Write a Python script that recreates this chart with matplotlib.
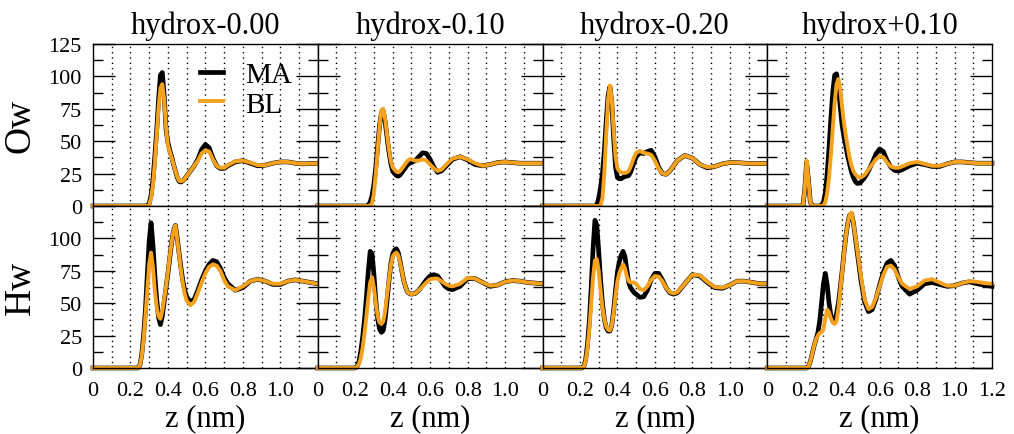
import matplotlib.pyplot as plt
import numpy as np
from matplotlib.ticker import MultipleLocator

plt.rcParams["font.family"] = ["Liberation Serif", "DejaVu Serif"]

MA_COLOR = "#000000"
BL_COLOR = "#f4a21e"

TITLES = ["hydrox-0.00", "hydrox-0.10", "hydrox-0.20", "hydrox+0.10"]
ROW_LABELS = ["Ow", "Hw"]
SERIES = ["MA", "BL"]
XTICKS = [0.0, 0.2, 0.4, 0.6, 0.8, 1.0, 1.2]
XTICK_LABELS = ["0", "0.2", "0.4", "0.6", "0.8", "1.0", "1.2"]

# z grid (nm) shared by all profiles
Z = [0.00, 0.18, 0.19, 0.20, 0.21, 0.22, 0.23, 0.24, 0.25, 0.26, 0.27, 0.28, 0.29,
     0.30, 0.31, 0.32, 0.33, 0.34, 0.35, 0.36, 0.37, 0.38, 0.39, 0.40,
     0.41, 0.42, 0.43, 0.44, 0.45, 0.46, 0.47, 0.48, 0.49, 0.50,
     0.52, 0.54, 0.56, 0.58, 0.60, 0.62, 0.64, 0.66, 0.68, 0.70, 0.72,
     0.76, 0.80, 0.84, 0.88, 0.92, 0.96, 1.00, 1.04, 1.08, 1.12, 1.16, 1.20]

# water oxygen density
OW_000_MA = [0, 0, 0, 0, 0, 0, 0, 0, 0, 0, 0, 0, 0,
             2, 8, 20, 38, 58, 82, 101, 103, 85, 59, 49,
             43, 38, 32, 27, 22, 19, 18.5, 19.5, 21, 23,
             27, 31, 36, 43.5, 47.5, 45, 37, 31, 29, 29, 31,
             34, 35, 33, 31, 31.5, 33, 34, 34, 33, 32.5, 32.7, 33]
OW_000_BL = [0, 0, 0, 0, 0, 0, 0, 0, 0, 0, 0, 0, 0,
             1, 6, 16, 33, 54, 76, 91, 94, 82, 60, 47,
             42, 37, 32, 27, 22.5, 19.5, 19, 19.5, 21, 23,
             27, 31, 35, 40.5, 43, 42, 36, 31, 29.5, 29.5, 31.5,
             34.5, 35, 33.5, 31.5, 31.5, 33, 34, 34, 33, 32.5, 32.7, 33]
OW_010_MA = [0, 0, 0, 0, 0, 0, 0, 0, 0, 0, 0.5, 3, 8,
             17, 30, 46, 62, 72, 73, 65, 53, 42, 33, 27,
             25, 23.5, 23, 24, 26, 28, 30, 32, 33, 33.5,
             35, 38, 41, 40.5, 36, 30, 26, 27, 30, 33, 36,
             38, 35.5, 32, 31, 32, 33.5, 34, 33.5, 33, 33, 33, 33]
OW_010_BL = [0, 0, 0, 0, 0, 0, 0, 0, 0, 0, 0, 0.5, 2,
             10, 25, 43, 61, 74, 75, 67, 55, 44, 35, 30,
             28, 26.5, 26, 27, 29, 31, 33, 35, 36, 36,
             35, 35, 36, 35, 32, 29, 27, 28, 31, 34, 36.5,
             38, 36, 33, 31, 32, 33.5, 34, 33.5, 33, 33, 33, 33]
OW_020_MA = [0, 0, 0, 0, 0, 0, 0, 0, 0, 0, 0, 0, 0.5,
             6, 14, 25, 42, 65, 85, 92, 80, 52, 30, 22,
             21, 21, 22, 23, 23, 23.5, 26, 30, 34, 38,
             41, 40.5, 42, 43, 38, 30, 25, 24.5, 27, 31, 35,
             39, 37, 32, 29.5, 30.5, 32.5, 33.5, 33.5, 33, 32.7, 32.7, 32.7]
OW_020_BL = [0, 0, 0, 0, 0, 0, 0, 0, 0, 0, 0, 0, 0,
             0, 0.5, 6, 25, 55, 82, 93, 82, 58, 38, 29,
             27, 26, 25.5, 25.5, 26, 27, 30, 34, 38, 41,
             42.5, 41, 40.5, 39.5, 35, 29, 25, 24.5, 27, 31, 35,
             39, 37, 32, 30, 30.5, 32.5, 33.5, 33.5, 33, 32.7, 32.7, 32.7]
OW_P10_MA = [0, 0, 0, 12, 34, 20, 3, 0, 0, 0, 0, 0, 0.5,
             3, 10, 25, 45, 68, 88, 101, 102, 92, 76, 62,
             53, 46, 38, 32, 26, 22, 19, 17.5, 17.5, 18.5,
             22, 27, 33, 40, 44, 42, 35, 30, 27.5, 27, 28,
             31, 33, 32, 30.5, 30.5, 32.5, 34, 34, 33.5, 33, 33, 33]
OW_P10_BL = [0, 0, 0, 12, 35, 20, 3, 0, 0, 0, 0, 0, 0,
             0.5, 3, 10, 22, 40, 60, 80, 94, 98, 90, 76,
             64, 54, 45, 37, 31, 27, 24.5, 23, 22, 22,
             24, 28, 32, 36, 38.5, 37.5, 33.5, 30.5, 29.5, 29.5, 30.5,
             33, 34, 32.5, 31, 31, 32.5, 34, 34, 33.5, 33, 33, 33]

# water hydrogen density
HW_000_MA = [0, 0, 0, 0, 0, 0, 0, 0, 2, 10, 25, 45, 72,
             98, 112, 95, 72, 53, 39, 33.5, 40, 51, 62, 73,
             85, 97, 106, 110, 100, 88, 77, 67, 60, 55,
             51, 53, 60, 68, 75, 80, 83, 82, 77, 70, 65,
             60, 62, 67, 68.5, 67, 64.5, 64.5, 67, 68, 67, 66, 65]
HW_000_BL = [0, 0, 0, 0, 0, 0, 0, 0, 2, 9, 22, 40, 60,
             80, 89, 78, 60, 47, 40, 38, 44, 53, 63, 74,
             86, 97, 106, 110, 99, 87, 75, 65, 57, 52,
             48.5, 51, 58, 66, 73, 78, 80, 79, 75, 68, 63,
             60, 63, 67, 68.5, 67, 65, 65, 67, 68, 67, 66, 65]
HW_010_MA = [0, 0, 0, 0, 1, 5, 13, 24, 38, 55, 75, 90, 88,
             72, 52, 38, 30, 27.5, 29, 38, 52, 67, 80, 88,
             91, 92, 89, 82, 74, 67, 62, 58.5, 57.5, 57,
             57.5, 60, 64, 68, 71, 72, 71, 67, 63, 61, 60.5,
             63, 69, 69, 66, 63, 64, 66.5, 67.5, 67, 66, 65.5, 65]
HW_010_BL = [0, 0, 0, 0, 1, 3, 8, 16, 27, 40, 54, 66, 70,
             62, 50, 40, 35, 34, 36, 44, 56, 68, 79, 86,
             88, 89, 87, 81, 74, 67, 62, 58.5, 57.5, 57,
             57.5, 60, 63, 66, 68.5, 69, 69, 67, 65, 63.5, 63,
             65, 69.5, 69, 66, 63.5, 64, 66.5, 67.5, 67, 66, 65.5, 65]
HW_020_MA = [0, 0, 0, 0, 0, 1, 6, 18, 36, 62, 92, 114, 110,
             90, 68, 50, 38, 31, 28.5, 28.5, 33, 45, 60, 74,
             82, 87, 90, 86, 76, 66, 62, 60, 58, 57,
             54.5, 55, 60, 68, 73, 73, 68, 62, 58, 57, 58,
             65, 72, 71, 66, 62, 61.5, 64, 67, 67, 66, 65, 65]
HW_020_BL = [0, 0, 0, 0, 0, 1, 5, 15, 30, 50, 70, 83, 84,
             75, 60, 47, 38, 32, 29.5, 29, 33, 43, 56, 67,
             73, 77, 80, 77, 71, 67, 66, 66, 66, 65,
             61, 60, 63, 68, 71, 70.5, 67, 62, 58.5, 57.5, 58.5,
             65, 72, 71.5, 66.5, 62.5, 62, 64, 67, 67, 66, 65, 65]
HW_P10_MA = [0, 0, 0, 0, 0, 1, 5, 11, 17, 22, 27, 36, 50,
             65, 73, 64, 50, 40, 36, 37, 42, 50, 62, 75,
             89, 102, 112, 118, 119, 112, 101, 90, 79, 68,
             51, 43.5, 45, 53, 64, 74, 81, 83, 79, 70, 63,
             57, 60, 65, 66, 64.5, 63, 63.5, 65.5, 66.5, 65, 64, 63]
HW_P10_BL = [0, 0, 0, 0, 0, 1, 5, 11, 17, 22, 25, 27, 27.5,
             30, 38, 45, 43, 38, 35, 34, 36, 46, 60, 74,
             88, 102, 112, 118, 120, 112, 102, 92, 81, 71,
             53, 45.5, 47, 54, 63, 72, 78, 79, 76, 70, 65,
             61, 63, 67.5, 68.5, 66, 63.5, 63.5, 65.5, 67, 66.5, 65.5, 65]

PROFILES = [
    [(OW_000_MA, OW_000_BL), (OW_010_MA, OW_010_BL), (OW_020_MA, OW_020_BL), (OW_P10_MA, OW_P10_BL)],
    [(HW_000_MA, HW_000_BL), (HW_010_MA, HW_010_BL), (HW_020_MA, HW_020_BL), (HW_P10_MA, HW_P10_BL)],
]

W, H = 1014, 435
fig = plt.figure(figsize=(W / 100, H / 100), dpi=100)

left = 93 / W
panel_w = 224.75 / W
panel_h = 162 / H
row_bottoms = [1 - 207 / H, 1 - 369 / H]

for r in range(2):
    for c in range(4):
        ax = fig.add_axes([left + c * panel_w, row_bottoms[r], panel_w, panel_h])
        ma, bl = PROFILES[r][c]
        for xg in np.arange(0.1, 1.15, 0.1):
            ax.axvline(xg, color="black", lw=1.0, ls=(0, (1, 2.8)), zorder=1)
        l_ma, = ax.plot(Z, ma, color=MA_COLOR, lw=3.4, solid_joinstyle="round",
                        clip_on=False, zorder=3, label=SERIES[0])
        l_bl, = ax.plot(Z, bl, color=BL_COLOR, lw=2.8, solid_joinstyle="round",
                        clip_on=False, zorder=4, label=SERIES[1])
        ax.set_xlim(0, 1.2)
        ax.set_ylim(0, 125)

        for sp in ax.spines.values():
            sp.set_linewidth(1.0)
            sp.set_zorder(5)

        ax.set_yticks(np.arange(0, 126, 25))
        ax.yaxis.set_minor_locator(MultipleLocator(12.5))
        ax.tick_params(axis="y", which="major", direction="in", length=16, width=1.0,
                       left=True, right=True, labelsize=16, pad=8)
        ax.tick_params(axis="y", which="minor", direction="in", length=7.5, width=1.0,
                       left=True, right=True)
        ylabels = [f"{int(v)}" for v in np.arange(0, 126, 25)]
        if r == 1:
            ylabels[-1] = ""
        ax.set_yticklabels(ylabels)
        if c > 0:
            ax.tick_params(axis="y", labelleft=False)

        ax.set_xticks(XTICKS)
        xl = list(XTICK_LABELS)
        if c < 3:
            xl[-1] = ""
        ax.set_xticklabels(xl)
        ax.tick_params(axis="x", length=0, labelsize=16, pad=9)
        if r == 0:
            ax.tick_params(axis="x", labelbottom=False)
            ax.set_title(TITLES[c], fontsize=22, pad=8)
        else:
            ax.set_xlabel("z (nm)", fontsize=22, labelpad=3)

        if c == 0:
            ax.set_ylabel(ROW_LABELS[r], fontsize=27, labelpad=8)

        if r == 0 and c == 0:
            ax.legend(handles=[l_ma, l_bl], loc="upper left", bbox_to_anchor=(0.475, 0.89),
                      frameon=False, fontsize=21, handlelength=0.8, handletextpad=0.75,
                      labelspacing=0.1, borderpad=0, borderaxespad=0)

fig.savefig("out.png", dpi=100)
